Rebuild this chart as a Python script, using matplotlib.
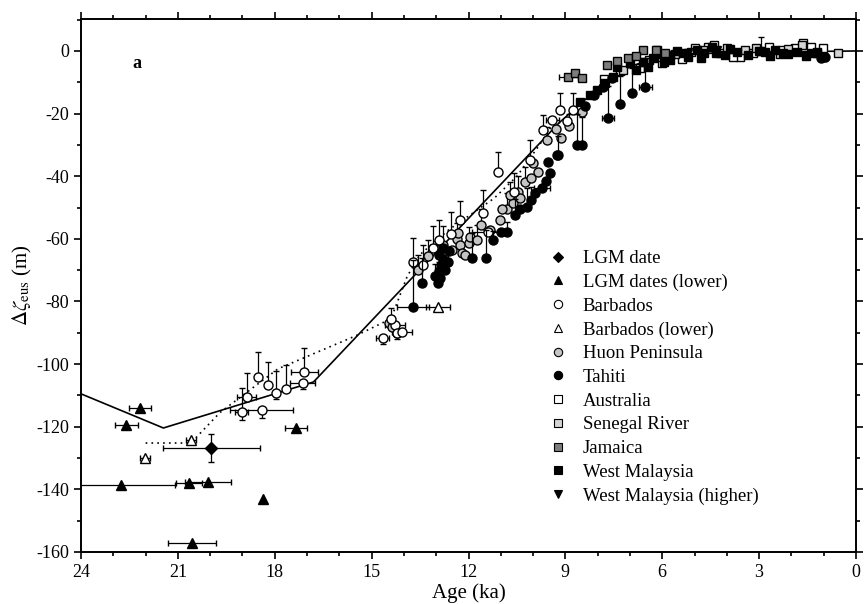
import matplotlib
matplotlib.use("Agg")
import matplotlib.pyplot as plt
from matplotlib.lines import Line2D
from matplotlib.ticker import MultipleLocator
import numpy as np

# ── Data (ages in ka, sea level in m) ─────────────────────────────────────────
# LGM date
lgm_x = [19.97]
lgm_y = [-126.8]
lgm_xerr = [1.5]
lgm_yerr = [4.4]

# LGM dates (lower)
lgml_x = [22.17, 22.60, 22.77, 20.66, 20.07, 18.36, 17.34, 20.56]
lgml_y = [-114.0, -119.5, -138.6, -138.0, -137.6, -143.0, -120.5, -157.2]
lgml_xerr = [0.35, 0.35, 1.67, 0.40, 0.70, 0.0, 0.34, 0.75]

# Barbados
barb_x = [19.03, 18.87, 18.51, 18.41, 18.20, 17.96, 17.65, 17.09, 17.14,
          14.65, 14.28, 14.20, 14.06, 14.40, 13.71, 13.40, 13.10, 12.90,
          12.55, 12.26, 11.54, 11.39, 11.08, 10.60, 10.10, 9.70, 9.40,
          9.17, 8.76, 8.95]
barb_y = [-115.2, -110.4, -104.0, -114.7, -106.7, -109.3, -108.0, -102.4, -106.1,
          -91.7, -87.5, -90.0, -89.7, -85.5, -67.3, -68.5, -63.0, -60.5,
          -58.5, -54.0, -51.8, -57.7, -38.5, -45.0, -34.8, -25.2, -22.0,
          -18.8, -18.8, -22.5]
barb_up = [7.5, 7.6, 7.8, 0, 7.5, 7.0, 7.7, 7.4, 0,
           0, 0, 0, 0, 3.5, 7.5, 6.5, 7.0, 6.5,
           7.0, 6.0, 7.4, 0, 6.3, 6.0, 6.5, 4.7, 0,
           5.3, 5.5, 0]
barb_lo = [2.5, 0, 0, 2.5, 0, 2.0, 0, 0, 2.0,
           2.0, 0, 2.0, 0, 0, 0, 0, 0, 0,
           0, 0, 0, 0, 0, 0, 0, 0, 0,
           0, 0, 0]
barb_xerr = [0.2, 0.3, 0, 0.97, 0, 0, 0, 0.42, 0.40,
             0.2, 0.3, 0, 0.3, 0, 0, 0, 0, 0,
             0, 0, 0, 0.5, 0, 0, 0, 0, 0.2,
             0, 0, 0]

# Barbados (lower)
barbl_x = [22.02, 20.60, 12.95]
barbl_y = [-130.0, -124.3, -81.8]
barbl_xerr = [0.15, 0.15, 0.37]

# Huon Peninsula
huon_x = [14.45, 14.22, 14.38, 13.55, 13.25, 12.80, 12.37, 12.32, 12.26, 12.21,
          12.00, 11.95, 12.10, 11.75, 11.33, 11.02, 10.80, 10.62, 10.46, 10.40,
          10.25, 9.99, 9.85, 9.58, 9.30, 9.12, 8.90, 8.50, 11.60, 10.95,
          10.70, 10.05, 12.50]
huon_y = [-87.0, -90.2, -88.0, -70.0, -65.5, -62.0, -60.0, -58.2, -62.0, -64.6,
          -61.3, -59.3, -65.0, -60.5, -57.2, -54.0, -50.5, -48.5, -44.9, -47.0,
          -42.0, -35.9, -38.5, -28.4, -25.0, -27.9, -24.0, -19.5, -55.5, -50.5,
          -46.0, -40.5, -63.5]
huon_up = [0, 0, 3.0, 5.0, 5.0, 6.0, 5.0, 0, 0, 0,
           5.0, 0, 0, 5.0, 0, 0, 5.0, 0, 5.0, 0,
           5.0, 0, 0, 4.0, 0, 0, 4.0, 0, 5.0, 0,
           4.0, 0, 0]

# Tahiti
tahiti_x = [13.71, 13.45, 13.04, 12.95, 12.90, 12.85, 12.80, 12.88, 12.72, 12.65,
            12.60, 11.90, 11.46, 11.23, 10.98, 10.82, 10.56, 10.20, 9.94, 9.73,
            9.48, 9.53, 9.27, 9.22, 8.65, 8.50, 7.68, 7.31, 6.95, 6.53,
            8.40, 8.10, 7.85, 7.55, 1.07, 0.95, 12.92, 12.78, 10.40, 10.05,
            9.60]
tahiti_y = [-81.9, -74.2, -72.0, -74.0, -70.3, -68.5, -66.5, -72.5, -70.0, -67.5,
            -64.0, -66.2, -66.2, -60.4, -57.7, -57.7, -52.4, -49.7, -45.4, -43.9,
            -39.0, -35.4, -33.2, -33.2, -30.0, -30.0, -21.3, -16.9, -13.3, -11.4,
            -17.5, -14.0, -11.5, -8.5, -2.3, -2.0, -65.0, -63.0, -50.5, -47.5,
            -41.5]
tahiti_up = [15, 8, 4, 3, 3, 3, 3, 0, 3, 3,
             0, 8, 9, 3, 0, 3, 5, 6, 0, 0,
             0, 0, 0, 6, 10, 9, 10, 9, 8, 7,
             0, 0, 0, 0, 0, 0, 3, 0, 0, 4,
             0]
tahiti_xerr = [0.5, 0, 0, 0, 0, 0, 0, 0, 0, 0,
               0, 0, 0, 0, 0, 0, 0, 0, 0, 0.25,
               0, 0, 0, 0, 0, 0, 0.2, 0, 0, 0.2,
               0, 0, 0, 0, 0, 0, 0, 0, 0, 0,
               0]

# Australia
aus_x = [7.80, 7.30, 6.40, 6.00, 5.40, 4.58, 4.20, 3.60, 3.18, 2.93, 2.30, 1.63,
         1.02, 1.20, 5.80, 5.00, 4.40, 3.80, 2.70, 1.90, 1.40, 6.70]
aus_y = [-9.0, -6.5, -3.0, -4.0, -2.5, 1.4, -0.8, -1.8, -0.7, 0.0, 0.3, 2.4,
         0.9, -0.5, -1.5, 1.0, 1.8, -2.0, 1.2, 0.8, 1.2, -5.5]
aus_up = [0, 0, 0, 0, 0, 0, 0, 0, 0, 4.6, 0, 0,
          0, 0, 0, 0, 0, 0, 0, 0, 0, 0]

# Senegal River
sen_x = [7.20, 6.54, 6.17, 5.60, 5.10, 4.00, 3.44, 2.10, 1.68, 0.55, 6.00, 4.75,
         3.10, 2.35]
sen_y = [-6.0, -3.4, 0.3, -1.0, -0.3, 0.9, 0.3, 0.5, 1.9, -0.5, -2.0, 0.2,
         1.0, -1.0]

# Jamaica
jam_x = [8.91, 8.70, 8.50, 7.72, 7.41, 7.05, 6.59, 6.80, 6.20, 5.90]
jam_y = [-8.2, -7.1, -8.7, -4.5, -3.1, -2.3, 0.3, -1.5, 0.3, -0.5]
jam_xerr = [0.3, 0, 0, 0, 0, 0, 0, 0, 0, 0]

# West Malaysia
wm_x = [8.55, 8.24, 8.03, 7.77, 7.52, 7.41, 7.00, 6.60, 6.29, 5.76, 5.76, 5.35,
        4.93, 4.47, 4.05, 3.69, 2.81, 2.50, 2.25, 1.84, 1.37, 1.02, 6.00, 5.55,
        4.70, 3.00, 6.80, 6.45, 5.95, 5.20, 4.80, 4.35, 3.90, 3.35, 2.65, 2.10,
        1.55, 1.20]
wm_y = [-16.2, -14.0, -12.5, -10.3, -8.2, -5.0, -4.0, -3.4, -2.3, -1.3, -2.9, -0.7,
        0.3, 1.4, -1.3, -0.2, -0.2, 0.3, -0.7, -0.2, -0.7, -1.8, -1.0, 0.0,
        -0.5, 0.0, -6.0, -5.0, -3.5, -1.8, -2.2, -0.8, 0.5, -1.2, -1.5, -1.0,
        -1.5, -0.3]

# West Malaysia (higher)
wmh_x = [5.20, 4.30]
wmh_y = [-0.5, 0.2]

# Model curve (solid) and smoothed curve (dotted)
model_x = [24.0, 21.45, 16.8, 9.2, 8.0, 7.0, 6.0, 4.0, 0.0]
model_y = [-109.5, -120.4, -105.7, -23.0, -12.0, -5.0, -1.5, -0.5, 0.0]
smooth_x = [22.0, 20.6, 19.7, 17.9, 15.5, 14.4, 13.9, 13.5, 12.6, 11.2, 10.5, 9.8, 9.3]
smooth_y = [-125.2, -125.2, -115.5, -101.5, -91.0, -85.5, -72.0, -65.0, -57.0, -47.0,
            -40.0, -30.0, -22.0]

# ── Style ─────────────────────────────────────────────────────────────────────
plt.rcParams["font.family"] = ["Liberation Serif", "DejaVu Serif"]
plt.rcParams["mathtext.fontset"] = "stix"
plt.rcParams["axes.unicode_minus"] = False

HUON_GREY = "#c4c4c4"
SEN_GREY = "#d4d4d4"
JAM_GREY = "#7c7c7c"
EB = dict(ecolor="black", elinewidth=0.9, capsize=2.3, capthick=0.9,
          markeredgecolor="black", markeredgewidth=1.0, linestyle="none")

fig = plt.figure(figsize=(8.64, 6.04), dpi=100)
ax = fig.add_axes([0.0938, 0.0861, 0.8969, 0.8824])

ax.plot(model_x, model_y, color="black", lw=1.2, zorder=2)
ax.plot(smooth_x, smooth_y, color="black", lw=1.2, ls=(0, (1, 2.5)), zorder=2)


def asym(lo, hi):
    return np.array([lo, hi])


ax.errorbar(huon_x, huon_y, yerr=asym([0] * len(huon_up), huon_up),
            marker="o", ms=6.5, mfc=HUON_GREY, zorder=3, **EB)
ax.errorbar(barb_x, barb_y, yerr=asym(barb_lo, barb_up), xerr=barb_xerr,
            marker="o", ms=6.5, mfc="white", zorder=3, **EB)
ax.errorbar(tahiti_x, tahiti_y, yerr=asym([0] * len(tahiti_up), tahiti_up),
            xerr=tahiti_xerr, marker="o", ms=6.5, mfc="black", zorder=4, **EB)
ax.errorbar(aus_x, aus_y, yerr=asym([0] * len(aus_up), aus_up),
            marker="s", ms=5.8, mfc="white", zorder=3, **EB)
ax.errorbar(sen_x, sen_y, marker="s", ms=5.8, mfc=SEN_GREY, zorder=3, **EB)
ax.errorbar(wm_x, wm_y, marker="s", ms=5.8, mfc="black", zorder=4, **EB)
ax.errorbar(wmh_x, wmh_y, marker="v", ms=6, mfc="black", zorder=4, **EB)
ax.errorbar(jam_x, jam_y, xerr=jam_xerr, marker="s", ms=6.2, mfc=JAM_GREY, zorder=5, **EB)
ax.errorbar(barbl_x, barbl_y, xerr=barbl_xerr, marker="^", ms=6.5, mfc="white",
            zorder=4, **EB)
ax.errorbar(lgml_x, lgml_y, xerr=lgml_xerr, marker="^", ms=7, mfc="black",
            zorder=4, **EB)
ax.errorbar(lgm_x, lgm_y, xerr=lgm_xerr, yerr=lgm_yerr, marker="D", ms=6,
            mfc="black", zorder=4, **EB)

# ── Axes ──────────────────────────────────────────────────────────────────────
ax.set_xlim(24, 0)
ax.set_ylim(-160, 10.2)
ax.xaxis.set_major_locator(MultipleLocator(3))
ax.xaxis.set_minor_locator(MultipleLocator(1))
ax.yaxis.set_major_locator(MultipleLocator(20))
ax.yaxis.set_minor_locator(MultipleLocator(10))
ax.tick_params(which="both", direction="out", top=True, right=True,
               labelsize=13, width=1.2)
ax.tick_params(which="major", length=5)
ax.tick_params(which="minor", length=3)
for s in ax.spines.values():
    s.set_linewidth(1.4)

ax.set_xlabel("Age (ka)", fontsize=15, labelpad=2)
ax.set_ylabel(r"$\Delta\zeta_{\rm eus}$ (m)", fontsize=15, labelpad=2)
ax.text(0.072, 0.917, "a", transform=ax.transAxes, fontsize=13,
        fontweight="bold", ha="center", va="center")

# ── Legend ────────────────────────────────────────────────────────────────────
def handle(marker, face, ms=6):
    return Line2D([], [], ls="none", marker=marker, ms=ms, mfc=face,
                  mec="black", mew=0.8)


handles = [
    handle("D", "black", 5.5),
    handle("^", "black", 6),
    handle("o", "white"),
    handle("^", "white", 6),
    handle("o", HUON_GREY),
    handle("o", "black"),
    handle("s", "white", 5.5),
    handle("s", SEN_GREY, 5.5),
    handle("s", JAM_GREY, 5.5),
    handle("s", "black", 5.5),
    handle("v", "black", 6),
]
labels = ["LGM date", "LGM dates (lower)", "Barbados", "Barbados (lower)",
          "Huon Peninsula", "Tahiti", "Australia", "Senegal River", "Jamaica",
          "West Malaysia", "West Malaysia (higher)"]
ax.legend(handles, labels, loc="upper left", bbox_to_anchor=(0.603, 0.5665),
          frameon=False, fontsize=13.5, handlelength=1.0, handletextpad=0.83,
          labelspacing=0.35, borderpad=0, borderaxespad=0)

fig.savefig("out.png", dpi=100)
